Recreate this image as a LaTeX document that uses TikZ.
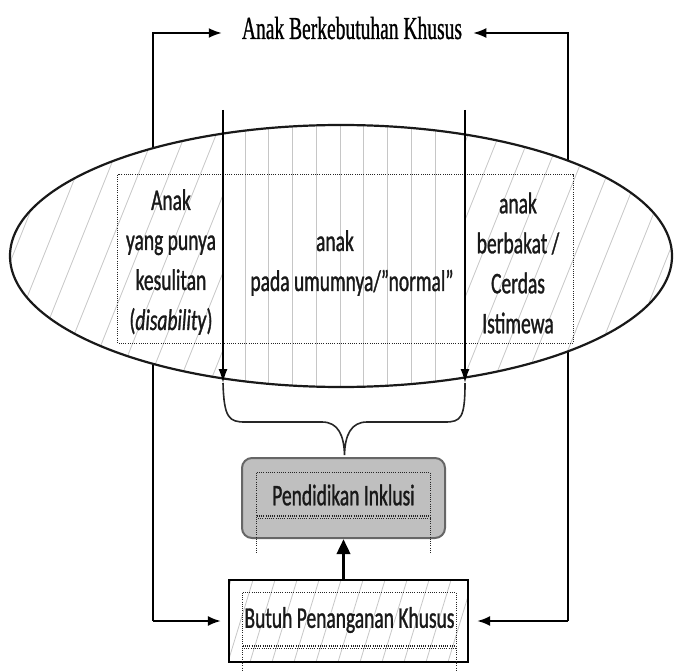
\documentclass[tikz,border=0pt]{standalone}
\usepackage{fontspec}
\usetikzlibrary{arrows.meta,shapes.geometric}
\newfontfamily\titlefont[FakeStretch=0.61,FakeBold=0.8]{Liberation Serif}
\newfontfamily\bodyfont[FakeStretch=0.65,FakeBold=1]{Carlito}
\definecolor{hatchgray}{HTML}{C6C6C6}
\begin{document}
\begin{tikzpicture}[x=1pt,y=-1pt,
  conn/.style={line width=1.8pt, draw=black},
  sidetip/.style={-{Latex[length=13pt,width=10pt]}},
  varrow/.style={line width=1.8pt, draw=black, -{Latex[length=14pt,width=9pt]}},
  lbl/.style={font=\bodyfont\fontsize{30}{40}\selectfont, align=center, inner sep=0pt, text=black!90},
  hatchline/.style={draw=hatchgray, line width=0.8pt},
  dotline/.style={draw=black!85, line width=1.3pt, dash pattern=on 1pt off 1.2pt},
]
\useasboundingbox (0,0) rectangle (677,671);

% title
\node[font=\titlefont\fontsize{32}{36}\selectfont, inner sep=0pt, anchor=base] (title) at (352,39) {Anak Berkebutuhan Khusus};

% bottom box with hatching
\begin{scope}
  \clip (229,580) rectangle (468,662);
  \foreach \x in {140,162,...,500} \draw[hatchline] (\x,662) -- ++(25,-82);
\end{scope}
\node[draw=black, line width=2.4pt, minimum width=239pt, minimum height=82pt, inner sep=0pt] (bpk) at (348.5,621) {};
\node[lbl, minimum width=213pt, minimum height=54pt] (bpt) at (349.5,620) {Butuh Penanganan Khusus};
\draw[dotline] (bpt.north west) -- (bpt.north east);
\draw[dotline] (bpt.north west) -- ++(0,78);
\draw[dotline] (bpt.north east) -- ++(0,78);
\draw[dotline] ([yshift=1.2pt]bpt.south west) -- ([yshift=1.2pt]bpt.south east);
\draw[dotline, dash phase=1pt] ([yshift=-1.2pt]bpt.south west) -- ([yshift=-1.2pt]bpt.south east);

% gray box
\node[draw=black!60, fill=black!25, line width=2pt, rounded corners=10pt, minimum width=203pt, minimum height=80pt, inner sep=0pt] (pi) at (343.5,498) {};
\node[lbl, minimum width=173pt, minimum height=44pt] (pit) at (343.5,495) {Pendidikan Inklusi};
\draw[dotline] (pit.north west) -- (pit.north east);
\draw[dotline] (pit.north west) -- ++(0,80);
\draw[dotline] (pit.north east) -- ++(0,80);
\draw[dotline] ([yshift=1.2pt]pit.south west) -- ([yshift=1.2pt]pit.south east);
\draw[dotline, dash phase=1pt] ([yshift=-1.2pt]pit.south west) -- ([yshift=-1.2pt]pit.south east);

% up arrow
\draw[line width=3.5pt, -{Triangle[length=15pt,width=13pt]}] (bpk.north -| pi.south) -- (pi.south);

% outer connectors
\coordinate (lt) at (153,33);
\coordinate (lb) at (153,621);
\coordinate (rt) at (568,33);
\coordinate (rb) at (568,621);
\draw[conn, sidetip, shorten >=20pt] (lb) -- (lt) -- ([yshift=6pt]title.base west);
\draw[conn, sidetip, shorten >=7pt] (lb) -- (bpk.west);
\draw[conn, sidetip, shorten >=11pt] (rb) -- (rt) -- ([yshift=6pt]title.base east);
\draw[conn, sidetip, shorten >=8pt] (rb) -- (bpk.east);

% ellipse
\fill[white] (341,256) ellipse [x radius=331, y radius=131];
\begin{scope}
  \clip (341,256) ellipse [x radius=331, y radius=131];
  \begin{scope}
    \clip (0,0) rectangle (223,671);
    \foreach \x in {-200,-169,...,300} \draw[hatchline] (\x,400) -- ++(120,-300);
  \end{scope}
  \begin{scope}
    \clip (465,0) rectangle (677,671);
    \foreach \x in {300,331,...,800} \draw[hatchline] (\x,400) -- ++(120,-300);
  \end{scope}
  \foreach \x in {245,268.75,...,436} \draw[hatchline] (\x,100) -- (\x,400);
\end{scope}
\node[ellipse, draw=black!90, line width=2.2pt, minimum width=662pt, minimum height=262pt, inner sep=0pt] (ell) at (341,256) {};

% dotted frame inside ellipse
\node[draw=none, minimum width=455pt, minimum height=168pt, inner sep=0pt] (frame) at (345.5,259) {};
\draw[dotline] (frame.north west) rectangle (frame.south east);

% labels
\node[lbl] (ldis) at (171,262) {Anak\\yang punya\\kesulitan\\(\textit{disability})};
\node[lbl] (lnorm) at (352,263) {anak\hspace*{34pt}\\pada umumnya/”normal”};
\node[lbl] (lber) at (518,263) {anak\\berbakat /\\Cerdas\\Istimewa};

% vertical arrows
\coordinate (la0) at (223,110);
\coordinate (la1) at (223,383);
\coordinate (ra0) at (465,110);
\coordinate (ra1) at (465,383);
\draw[varrow] (la0) -- (la1);
\draw[varrow] (ra0) -- (ra1);

% brace
\draw[line width=1.6pt, black!85] (la1) .. controls (224,418) and (229,422) .. (245,422) -- (322,422)
  .. controls (338,422) and (344,435) .. (344.5,455)
  .. controls (345,435) and (351,422) .. (367,422) -- (445,422)
  .. controls (461,422) and (465,418) .. (ra1);
\end{tikzpicture}
\end{document}
